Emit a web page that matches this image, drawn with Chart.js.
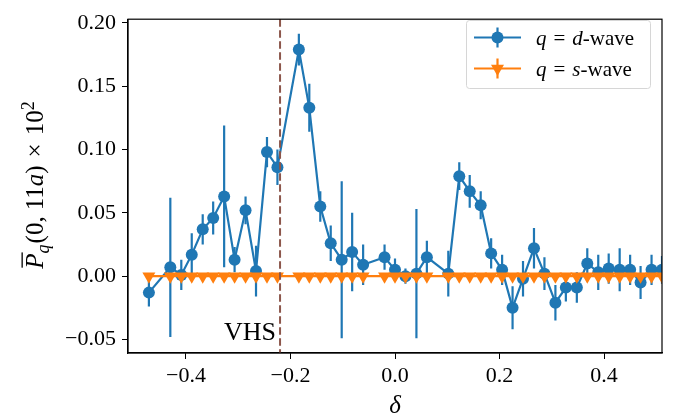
<!DOCTYPE html>
<html>
<head>
<meta charset="utf-8">
<script src="https://cdn.jsdelivr.net/npm/chart.js@4/dist/chart.umd.min.js"></script>
<style>
  html, body { margin: 0; padding: 0; background: #fff; }
  #chart { display: block; }
</style>
</head>
<body>
<canvas id="chart" width="679" height="420"></canvas>
<script>
// doping values delta shared by both pairing channels
var deltas = [-0.471, -0.430, -0.409, -0.389, -0.368, -0.348, -0.327, -0.307, -0.286, -0.266,
              -0.245, -0.225, -0.184, -0.164, -0.143, -0.123, -0.102, -0.082, -0.061, -0.020,
               0.000,  0.020,  0.041,  0.061,  0.102,  0.123,  0.143,  0.164,  0.184,  0.205,
               0.225,  0.245,  0.266,  0.286,  0.307,  0.327,  0.348,  0.368,  0.389,  0.409,
               0.430,  0.450,  0.470,  0.491,  0.511];

var dWave    = [-0.013, 0.007, 0.001, 0.017, 0.037, 0.046, 0.063, 0.013, 0.052, 0.004,
                 0.098, 0.086, 0.179, 0.133, 0.055, 0.026, 0.013, 0.019, 0.009, 0.015,
                 0.005, 0.000, 0.002, 0.015, 0.002, 0.079, 0.067, 0.056, 0.018, 0.005,
                -0.025, -0.002, 0.022, 0.002, -0.021, -0.009, -0.009, 0.010, 0.003, 0.006,
                 0.005, 0.005, -0.005, 0.005, 0.005];
var dWaveErr = [0.011, 0.055, 0.012, 0.017, 0.012, 0.013, 0.056, 0.010, 0.011, 0.020,
                0.012, 0.014, 0.0125, 0.019, 0.012, 0.014, 0.062, 0.031, 0.016, 0.010,
                0.009, 0.006, 0.051, 0.013, 0.018, 0.011, 0.013, 0.011, 0.012, 0.012,
                0.017, 0.014, 0.016, 0.013, 0.014, 0.011, 0.012, 0.012, 0.014, 0.012,
                0.017, 0.012, 0.013, 0.012, 0.011];

var sWave    = [0, 0, 0, 0, 0, 0, 0, 0, 0, 0, 0, 0, 0, 0, 0, 0, 0, 0, 0, 0, 0, 0, 0,
                0, 0, 0, 0, 0, 0, 0, 0, 0, 0, 0, 0, 0, 0, 0, 0, 0, 0, 0, 0, 0, 0];
var sWaveErr = [0, 0, 0, 0, 0, 0, 0, 0, 0, 0, 0, 0, 0, 0, 0, 0, 0, 0, 0, 0, 0, 0, 0,
                0, 0, 0, 0, 0, 0, 0, 0, 0, 0, 0, 0, 0, 0, 0, 0, 0, 0, 0, 0, 0, 0];

var xTicks = [-0.4, -0.2, 0.0, 0.2, 0.4];
var yTicks = [-0.05, 0.00, 0.05, 0.10, 0.15, 0.20];
var vhsDelta = -0.220;

var BLUE = '#1f77b4', ORANGE = '#ff7f0e', BROWN = '#8c564b';
var SERIF = '"Liberation Serif", "DejaVu Serif", serif';

function points(ys) {
  return deltas.map(function (x, i) { return { x: x, y: ys[i] }; });
}

function minus(v, digits) {
  return (v < -1e-9 ? '\u2212' : '') + Math.abs(v).toFixed(digits);
}

function fontOf(p, size) {
  return (p.it ? 'italic ' : '') + Math.round(size * (p.sc || 1)) + 'px ' + SERIF;
}

// draws a run of text pieces, each {t, it, sc, sh, gap}, centred on cx
function drawRich(ctx, parts, cx, y, size) {
  var total = 0;
  parts.forEach(function (p) {
    ctx.font = fontOf(p, size);
    total += ctx.measureText(p.t).width + (p.gap || 0);
  });
  var x = cx - total / 2;
  ctx.textBaseline = 'alphabetic';
  ctx.textAlign = 'left';
  parts.forEach(function (p) {
    ctx.font = fontOf(p, size);
    x += p.gap || 0;
    var w = ctx.measureText(p.t).width;
    ctx.fillText(p.t, x, y + (p.sh || 0) * size);
    if (p.bar) ctx.fillRect(x + 1, y - size * 0.86, w, 1.3);
    x += w;
  });
}

function legendRow(ctx, color, style, y, label) {
  ctx.save();
  ctx.strokeStyle = color;
  ctx.lineWidth = 2.2;
  ctx.beginPath(); ctx.moveTo(474, y); ctx.lineTo(521, y); ctx.stroke();
  ctx.beginPath(); ctx.moveTo(497.5, y - 10); ctx.lineTo(497.5, y + 10); ctx.stroke();
  ctx.fillStyle = color;
  Chart.helpers.drawPoint(ctx, {
    pointStyle: style, rotation: style === 'triangle' ? 180 : 0,
    radius: style === 'triangle' ? 7.5 : 6, borderWidth: 0
  }, 497.5, y);
  ctx.fillStyle = '#000';
  ctx.textAlign = 'left';
  ctx.textBaseline = 'alphabetic';
  var parts = [{ t: 'q', it: true }, { t: '=', gap: 7 }, { t: label, it: true, gap: 7 }, { t: '-wave' }];
  var x = 536;
  parts.forEach(function (p) {
    ctx.font = fontOf(p, 21);
    x += p.gap || 0;
    ctx.fillText(p.t, x, y + 7);
    x += ctx.measureText(p.t).width;
  });
  ctx.restore();
}

var decorations = {
  id: 'decorations',
  beforeDatasetDraw: function (chart, args) {
    var ds = chart.data.datasets[args.index];
    var errs = ds.errors;
    if (!errs) return;
    var ctx = chart.ctx, xs = chart.scales.x, ys = chart.scales.y, a = chart.chartArea;
    ctx.save();
    ctx.beginPath();
    ctx.rect(a.left, a.top, a.right - a.left, a.bottom - a.top);
    ctx.clip();
    ctx.strokeStyle = ds.borderColor;
    ctx.lineWidth = 2.2;
    ds.data.forEach(function (p, i) {
      if (!errs[i]) return;
      var px = xs.getPixelForValue(p.x);
      ctx.beginPath();
      ctx.moveTo(px, ys.getPixelForValue(p.y - errs[i]));
      ctx.lineTo(px, ys.getPixelForValue(p.y + errs[i]));
      ctx.stroke();
    });
    ctx.restore();
  },
  afterDatasetsDraw: function (chart) {
    var ctx = chart.ctx, a = chart.chartArea;
    var vx = chart.scales.x.getPixelForValue(vhsDelta);
    ctx.save();
    ctx.strokeStyle = BROWN;
    ctx.lineWidth = 2;
    ctx.setLineDash([7.5, 3.5]);
    ctx.beginPath(); ctx.moveTo(vx, a.top); ctx.lineTo(vx, a.bottom); ctx.stroke();
    ctx.setLineDash([]);
    ctx.fillStyle = '#000';
    ctx.font = '26px ' + SERIF;
    ctx.textAlign = 'right';
    ctx.textBaseline = 'alphabetic';
    ctx.fillText('VHS', vx - 4, 340);
    // full box round the plot
    ctx.strokeStyle = '#000';
    ctx.lineWidth = 1.2;
    ctx.strokeRect(a.left, a.top, a.right - a.left, a.bottom - a.top);
    ctx.restore();
  },
  afterDraw: function (chart) {
    var ctx = chart.ctx, a = chart.chartArea;
    ctx.save();
    // legend box
    ctx.fillStyle = 'rgba(255,255,255,0.8)';
    ctx.strokeStyle = '#d6d6d6';
    ctx.lineWidth = 1;
    ctx.beginPath();
    ctx.roundRect(466.5, 20.5, 184, 68, 3);
    ctx.fill();
    ctx.stroke();
    legendRow(ctx, BLUE, 'circle', 37.5, 'd');
    legendRow(ctx, ORANGE, 'triangle', 68.5, 's');

    // axis titles
    ctx.fillStyle = '#000';
    drawRich(ctx, [{ t: '\u03b4', it: true }], (a.left + a.right) / 2, 413, 25);
    ctx.translate(43, 185);
    ctx.rotate(-Math.PI / 2);
    drawRich(ctx, [
      { t: 'P', it: true, bar: true },
      { t: 'q', it: true, sc: 0.7, sh: 0.22 },
      { t: '(0,', gap: 1 },
      { t: '11', gap: 6 },
      { t: 'a', it: true },
      { t: ')' },
      { t: '\u00d7', gap: 8 },
      { t: '10', gap: 8 },
      { t: '2', sc: 0.7, sh: -0.38 }
    ], 0, 0, 25);
    ctx.restore();
  }
};

var tickFont = { family: SERIF, size: 22 };

new Chart(document.getElementById('chart'), {
  type: 'scatter',
  data: {
    datasets: [{
      label: 's-wave',
      data: points(sWave),
      errors: sWaveErr,
      showLine: true,
      borderColor: ORANGE,
      backgroundColor: ORANGE,
      borderWidth: 2.4,
      pointStyle: 'triangle',
      rotation: 180,
      pointRadius: 7.5,
      pointBorderWidth: 0,
      order: 0
    }, {
      label: 'd-wave',
      data: points(dWave),
      errors: dWaveErr,
      showLine: true,
      borderColor: BLUE,
      backgroundColor: BLUE,
      borderWidth: 2.2,
      pointStyle: 'circle',
      pointRadius: 6,
      pointBorderWidth: 0,
      order: 1
    }]
  },
  options: {
    responsive: false,
    animation: false,
    layout: { padding: { left: 0, right: 17, top: 9, bottom: 0 } },
    plugins: { legend: { display: false }, tooltip: { enabled: false } },
    scales: {
      x: {
        type: 'linear',
        min: -0.511,
        max: 0.511,
        afterBuildTicks: function (s) { s.ticks = xTicks.map(function (v) { return { value: v }; }); },
        afterFit: function (s) { s.height = 67; },
        grid: { drawOnChartArea: false, drawTicks: true, tickLength: 6, color: '#000' },
        border: { display: true, color: '#000', width: 1.2 },
        ticks: {
          font: tickFont, color: '#000', padding: 4, maxRotation: 0,
          callback: function (v) { return minus(v, 1); }
        }
      },
      y: {
        type: 'linear',
        min: -0.0607,
        max: 0.203,
        afterBuildTicks: function (s) { s.ticks = yTicks.map(function (v) { return { value: v }; }); },
        afterFit: function (s) { s.width = 128; },
        grid: { drawOnChartArea: false, drawTicks: true, tickLength: 6, color: '#000' },
        border: { display: true, color: '#000', width: 1.2 },
        ticks: {
          font: tickFont, color: '#000', padding: 6,
          callback: function (v) { return minus(v, 2); }
        }
      }
    }
  },
  plugins: [decorations]
});
</script>
</body>
</html>
